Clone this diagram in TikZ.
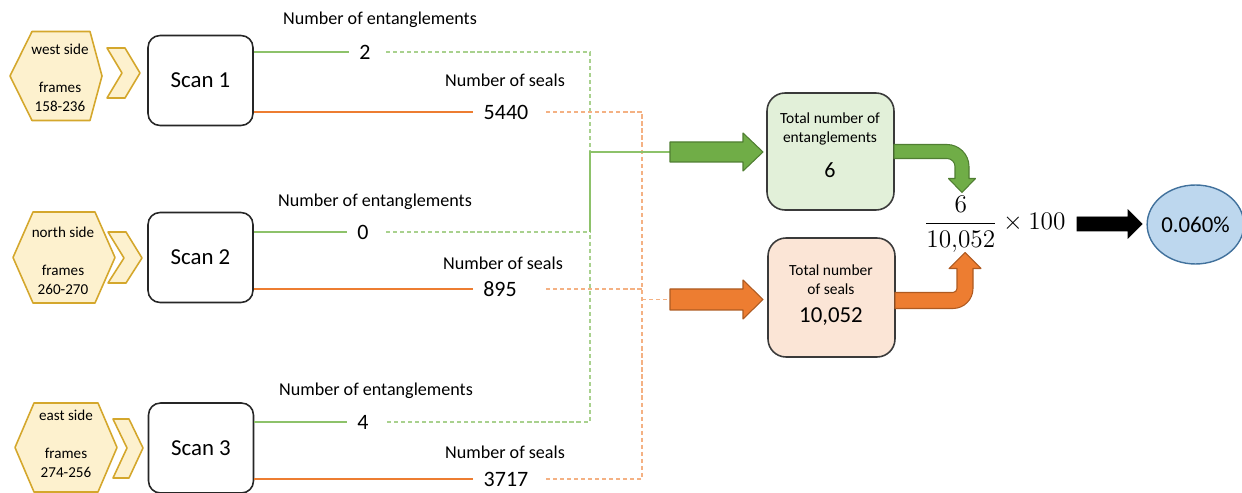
\documentclass[tikz,border=0pt]{standalone}
\usepackage{fontspec}
\setmainfont{Carlito}
\usetikzlibrary{calc,shapes.geometric}
\definecolor{hexfill}{HTML}{FDF1CE}
\definecolor{hexdraw}{HTML}{D4A72C}
\definecolor{gsolid}{HTML}{8DC26A}
\definecolor{gdash}{HTML}{A9D18E}
\definecolor{osolid}{HTML}{ED7D31}
\definecolor{odash}{HTML}{F4B183}
\definecolor{gfill}{HTML}{E2F0D9}
\definecolor{ofill}{HTML}{FBE5D6}
\definecolor{garrow}{HTML}{70AD47}
\definecolor{gborder}{HTML}{507E32}
\definecolor{oarrow}{HTML}{ED7D31}
\definecolor{oborder}{HTML}{AE5A21}
\definecolor{efill}{HTML}{BDD7EE}
\definecolor{edraw}{HTML}{41719C}
\definecolor{boxdraw}{HTML}{3A3A3A}
\begin{document}
\begin{tikzpicture}[x=0.02cm,y=-0.02cm,
 hexa/.style={draw=hexdraw,fill=hexfill,line width=0.9pt,line join=round},
 hextext/.style={align=center,font=\fontsize{8.6}{10.8}\selectfont,inner sep=0pt},
 scanbox/.style={draw=black!85,line width=0.9pt,rounded corners=0.24cm,minimum width=2.1cm,minimum height=1.8cm,font=\fontsize{13}{15}\selectfont},
 lab/.style={font=\fontsize{10.3}{12}\selectfont,inner sep=0pt},
 num/.style={font=\fontsize{12.5}{14}\selectfont,inner xsep=5.7pt,inner ysep=0pt},
 gline/.style={draw=gsolid,line width=0.8pt},
 gdashl/.style={draw=gdash,line width=0.8pt,dash pattern=on 2.4pt off 1.6pt},
 oline/.style={draw=osolid,line width=0.8pt},
 odashl/.style={draw=odash,line width=0.8pt,dash pattern=on 2.4pt off 1.6pt},
 totbox/.style={draw=boxdraw,line width=0.9pt,rounded corners=0.36cm,minimum width=2.54cm},
 smalltext/.style={align=center,font=\fontsize{8.8}{10.8}\selectfont,inner sep=0pt},
 bignum/.style={font=\fontsize{12.5}{14}\selectfont,inner sep=0pt},
 gblock/.style={fill=garrow,draw=gborder,line width=0.6pt,line join=round},
 oblock/.style={fill=oarrow,draw=oborder,line width=0.6pt,line join=round},
 kblock/.style={fill=black,draw=black,line width=0.4pt}
]
\useasboundingbox (0,0) rectangle (1242,493);

% hexagons and chevrons
\draw[hexa] (10,76) -- (32,31.5) -- (90,31.5) -- (102,76) -- (90,120.5) -- (32,120.5) -- cycle;
\draw[hexa] (13,257.5) -- (33,212) -- (95,212) -- (115,257.5) -- (95,303) -- (33,303) -- cycle;
\draw[hexa] (15,447.5) -- (34,403) -- (98,403) -- (117,447.5) -- (98,492) -- (34,492) -- cycle;
\draw[hexa] (107,48) -- (125,48) -- (140,73) -- (125,98) -- (107,98) -- (122,73) -- cycle;
\draw[hexa] (108,232) -- (126,232) -- (142,258) -- (126,283) -- (108,283) -- (124,258) -- cycle;
\draw[hexa] (113,419) -- (129,419) -- (143,448) -- (129,478) -- (113,478) -- (127,448) -- cycle;

\node[hextext] (h1) at (60,78) {west side\\[10.8pt]frames\\158-236};
\node[hextext] (h2) at (63,261) {north side\\[10.8pt]frames\\260-270};
\node[hextext] (h3) at (66,444) {east side\\[10.8pt]frames\\274-256};

% scan boxes
\node[scanbox] (scan1) at (200.5,80.5) {Scan 1};
\node[scanbox] (scan2) at (200.5,257.5) {Scan 2};
\node[scanbox] (scan3) at (201,448) {Scan 3};

% labels
\node[lab] (le1) at (380,20) {Number of entanglements};
\node[lab] (ls1) at (505,80) {Number of seals};
\node[lab] (le2) at (375,202) {Number of entanglements};
\node[lab] (ls2) at (503,263) {Number of seals};
\node[lab] (le3) at (376,391) {Number of entanglements};
\node[lab] (ls3) at (505,452) {Number of seals};

% numbers
\node[num] (e1) at (365,52) {2};
\node[num] (s1) at (506,112) {5440};
\node[num] (e2) at (363,232) {0};
\node[num] (s2) at (500,289) {895};
\node[num] (e3) at (363,422) {4};
\node[num] (s3) at (506,479) {3717};

% bus coordinates
\coordinate (gs) at (386,0);
\coordinate (gx) at (590,0);
\coordinate (os) at (546,0);
\coordinate (ox) at (642,0);
\coordinate (ga) at (670,152);
\coordinate (oa) at (670,299.5);

% solid lines from scans
\draw[gline] (scan1.east |- e1) -- (e1.west);
\draw[oline] (scan1.east |- s1) -- (s1.west);
\draw[gline] (scan2.east |- e2) -- (e2.west);
\draw[oline] (scan2.east |- s2) -- (s2.west);
\draw[gline] (scan3.east |- e3) -- (e3.west);
\draw[oline] (scan3.east |- s3) -- (s3.west);

% dashed buses
\draw[gdashl] (e1 -| gs) -- (e1 -| gx) -- (e3 -| gx) -- (e3 -| gs);
\draw[gdashl] (e2 -| gs) -- (e2 -| gx);
\draw[odashl] (s1 -| os) -- (s1 -| ox) -- (s3 -| ox) -- (s3 -| os);
\draw[odashl] (s2 -| os) -- (s2 -| ox);
\draw[odashl] (oa -| ox) -- (oa);
\draw[gline] (e2 -| gx) -- (ga -| gx) -- (ga);

% total boxes
\node[totbox,fill=gfill,minimum height=2.34cm] (ebox) at (830.5,151.5) {};
\node[totbox,fill=ofill,minimum height=2.38cm] (sbox) at (831.5,297.5) {};
\node[smalltext] (et) at (830,129) {Total number of\\entanglements};
\node[bignum] (ev) at (830,170) {6};
\node[smalltext] (st) at (831,280) {Total number\\of seals};
\node[bignum,font=\fontsize{13}{15}\selectfont] (sv) at (831,317) {10,052};

% straight block arrows
\draw[gblock] (ga) ++(0,-10) -- ++(73,0) -- ++(0,-9) -- ++(20,19) -- ++(-20,19) -- ++(0,-9) -- ++(-73,0) -- cycle;
\draw[oblock] (oa) ++(0,-10.5) -- ++(73,0) -- ++(0,-9) -- ++(20,19.5) -- ++(-20,19.5) -- ++(0,-9) -- ++(-73,0) -- cycle;

% bent arrows
\draw[gblock] (894,144.5) -- (947,144.5) .. controls (959.1,144.5) and (969,154.4) .. (969,166.5) -- (969,178.5) -- (975.5,178.5) -- (962,192.5) -- (948.5,178.5) -- (955,178.5) -- (955,166.5) .. controls (955,162.1) and (951.4,158.5) .. (947,158.5) -- (894,158.5) -- cycle;
\draw[oblock] (895,308.5) -- (953,308.5) .. controls (964,308.5) and (973,299.5) .. (973,288.5) -- (973,268.5) -- (981,268.5) -- (965,252.5) -- (949,268.5) -- (957,268.5) -- (957,288.5) .. controls (957,290.7) and (955.2,292.5) .. (953,292.5) -- (895,292.5) -- cycle;

% formula
\node[inner sep=0pt,anchor=base west,font=\fontsize{14}{16}\selectfont] (formula) at (924,230) {$\displaystyle\frac{6}{10{,}052}\times 100$};

% black arrow
\coordinate (ba) at (1077,224);
\draw[kblock] (ba) ++(0,-7) -- ++(51,0) -- ++(0,-7) -- ++(14,14) -- ++(-14,14) -- ++(0,-7) -- ++(-51,0) -- cycle;

% result
\node[ellipse,draw=edraw,fill=efill,line width=0.8pt,minimum width=1.8cm,minimum height=1.58cm,inner sep=0pt,font=\fontsize{13}{15}\selectfont] (res) at (1195.5,224.5) {0.060\%};
\end{tikzpicture}
\end{document}
